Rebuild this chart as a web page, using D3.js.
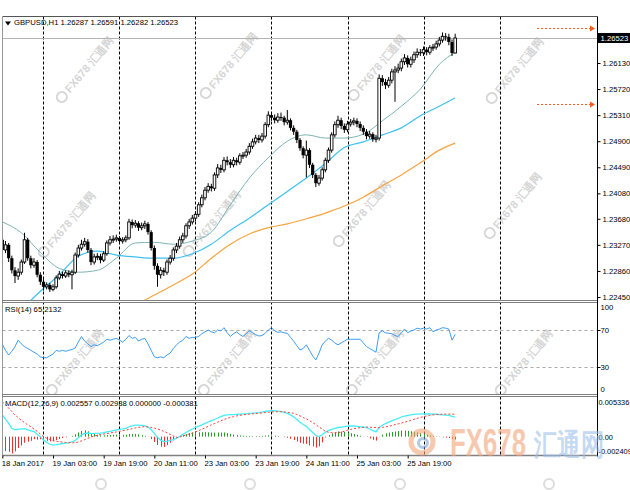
<!DOCTYPE html>
<html><head><meta charset="utf-8">
<script src="https://cdn.jsdelivr.net/npm/d3@7"></script>
<style>
body{margin:0;background:#fff}
svg{display:block}
text{font-family:"Liberation Sans",Arial,sans-serif}
</style>
</head><body>
<svg id="c" width="630" height="490"></svg>
<script>
// ---------------- DATA ----------------
const symbolTitle = "GBPUSD,H1";
const lastOHLC = ["1.26287","1.26591","1.26282","1.26523"];
const lastPrice = 1.26523;
const alertLevels = [1.2668, 1.2549];

const open = [1.2335,1.2319,1.2327,1.2306,1.2287,1.2278,1.2284,1.2300,1.2335,1.2306,
1.2295,1.2300,1.2280,1.2269,1.2261,1.2264,1.2257,1.2261,1.2275,1.2281,
1.2278,1.2283,1.2280,1.2284,1.2311,1.2322,1.2328,1.2332,1.2319,1.2300,
1.2308,1.2309,1.2303,1.2313,1.2330,1.2335,1.2336,1.2338,1.2333,1.2335,
1.2338,1.2363,1.2358,1.2361,1.2354,1.2357,1.2360,1.2347,1.2322,1.2294,
1.2280,1.2287,1.2284,1.2300,1.2306,1.2319,1.2325,1.2335,1.2341,1.2357,
1.2363,1.2369,1.2375,1.2390,1.2401,1.2413,1.2419,1.2416,1.2437,1.2448,
1.2445,1.2460,1.2457,1.2453,1.2460,1.2457,1.2467,1.2468,1.2473,1.2482,
1.2489,1.2495,1.2492,1.2498,1.2516,1.2531,1.2527,1.2523,1.2528,1.2527,
1.2520,1.2523,1.2511,1.2505,1.2492,1.2479,1.2468,1.2476,1.2453,1.2437,
1.2424,1.2432,1.2445,1.2460,1.2476,1.2500,1.2516,1.2523,1.2514,1.2508,
1.2517,1.2520,1.2522,1.2517,1.2511,1.2505,1.2498,1.2501,1.2493,1.2495,
1.2589,1.2583,1.2578,1.2586,1.2599,1.2602,1.2605,1.2615,1.2621,1.2611,
1.2618,1.2626,1.2630,1.2629,1.2634,1.2630,1.2637,1.2638,1.2643,1.2649,
1.2655,1.2654,1.2646,1.26287];
const high = [1.2340,1.2333,1.2330,1.2310,1.2292,1.2290,1.2304,1.2346,1.2338,1.2310,
1.2306,1.2303,1.2284,1.2273,1.2268,1.2267,1.2265,1.2279,1.2286,1.2285,
1.2287,1.2287,1.2288,1.2315,1.2327,1.2335,1.2338,1.2336,1.2322,1.2313,
1.2314,1.2313,1.2317,1.2334,1.2341,1.2342,1.2343,1.2341,1.2339,1.2342,
1.2368,1.2367,1.2366,1.2364,1.2362,1.2365,1.2363,1.2350,1.2326,1.2298,
1.2292,1.2291,1.2304,1.2311,1.2323,1.2330,1.2340,1.2346,1.2361,1.2368,
1.2374,1.2380,1.2394,1.2406,1.2418,1.2424,1.2423,1.2441,1.2454,1.2453,
1.2465,1.2466,1.2462,1.2465,1.2464,1.2471,1.2473,1.2478,1.2487,1.2494,
1.2500,1.2500,1.2503,1.2520,1.2537,1.2536,1.2532,1.2534,1.2535,1.2530,
1.2539,1.2526,1.2515,1.2508,1.2495,1.2482,1.2491,1.2479,1.2456,1.2440,
1.2437,1.2449,1.2464,1.2480,1.2504,1.2521,1.2530,1.2527,1.2518,1.2522,
1.2525,1.2527,1.2526,1.2521,1.2515,1.2509,1.2506,1.2504,1.2500,1.2595,
1.2594,1.2588,1.2591,1.2604,1.2608,1.2612,1.2620,1.2627,1.2625,1.2623,
1.2631,1.2636,1.2635,1.2639,1.2638,1.2641,1.2643,1.2648,1.2654,1.2661,
1.2660,1.2659,1.2650,1.26591];
const low = [1.2314,1.2314,1.2300,1.2282,1.2267,1.2272,1.2280,1.2297,1.2302,1.2290,
1.2291,1.2276,1.2264,1.2255,1.2257,1.2253,1.2254,1.2258,1.2272,1.2274,
1.2275,1.2276,1.2257,1.2281,1.2307,1.2318,1.2324,1.2315,1.2295,1.2296,
1.2303,1.2298,1.2300,1.2310,1.2326,1.2330,1.2332,1.2328,1.2329,1.2331,
1.2335,1.2353,1.2354,1.2349,1.2350,1.2352,1.2343,1.2318,1.2288,1.2261,
1.2274,1.2278,1.2280,1.2296,1.2302,1.2314,1.2321,1.2330,1.2337,1.2352,
1.2359,1.2364,1.2371,1.2386,1.2397,1.2409,1.2411,1.2412,1.2432,1.2440,
1.2441,1.2452,1.2448,1.2449,1.2452,1.2453,1.2462,1.2464,1.2469,1.2478,
1.2485,1.2487,1.2488,1.2494,1.2512,1.2522,1.2518,1.2519,1.2522,1.2515,
1.2516,1.2507,1.2500,1.2487,1.2475,1.2463,1.2433,1.2448,1.2432,1.2418,
1.2420,1.2428,1.2441,1.2456,1.2472,1.2496,1.2511,1.2509,1.2503,1.2504,
1.2513,1.2515,1.2512,1.2506,1.2500,1.2493,1.2494,1.2489,1.2488,1.2491,
1.2577,1.2572,1.2574,1.2581,1.2552,1.2597,1.2600,1.2610,1.2606,1.2606,
1.2613,1.2621,1.2624,1.2624,1.2625,1.2626,1.2632,1.2634,1.2639,1.2645,
1.2648,1.2641,1.2624,1.26282];
const close = [1.2319,1.2327,1.2306,1.2287,1.2278,1.2284,1.2300,1.2335,1.2306,1.2295,
1.2300,1.2280,1.2269,1.2261,1.2264,1.2257,1.2261,1.2275,1.2281,1.2278,
1.2283,1.2280,1.2284,1.2311,1.2322,1.2328,1.2332,1.2319,1.2300,1.2308,
1.2309,1.2303,1.2313,1.2330,1.2335,1.2336,1.2338,1.2333,1.2335,1.2338,
1.2363,1.2358,1.2361,1.2354,1.2357,1.2360,1.2347,1.2322,1.2294,1.2280,
1.2287,1.2284,1.2300,1.2306,1.2319,1.2325,1.2335,1.2341,1.2357,1.2363,
1.2369,1.2375,1.2390,1.2401,1.2413,1.2419,1.2416,1.2437,1.2448,1.2445,
1.2460,1.2457,1.2453,1.2460,1.2457,1.2467,1.2468,1.2473,1.2482,1.2489,
1.2495,1.2492,1.2498,1.2516,1.2531,1.2527,1.2523,1.2528,1.2527,1.2520,
1.2523,1.2511,1.2505,1.2492,1.2479,1.2468,1.2476,1.2453,1.2437,1.2424,
1.2432,1.2445,1.2460,1.2476,1.2500,1.2516,1.2523,1.2514,1.2508,1.2517,
1.2520,1.2522,1.2517,1.2511,1.2505,1.2498,1.2501,1.2493,1.2495,1.2589,
1.2583,1.2578,1.2586,1.2599,1.2602,1.2605,1.2615,1.2621,1.2611,1.2618,
1.2626,1.2630,1.2629,1.2634,1.2630,1.2637,1.2638,1.2643,1.2649,1.2655,
1.2654,1.2646,1.26287,1.26523];

// moving averages, read at sampled bars
const maFastBars = [0,6,12,18,24,30,36,42,48,54,60,66,72,78,84,90,96,102,108,114,120,126,132,138,143];
const maFast = [1.2363,1.2346,1.2315,1.2290,1.2284,1.2287,1.2306,1.2330,1.2331,1.2328,1.2333,1.2347,1.2390,1.2432,1.2464,1.2490,1.2500,1.2495,1.2495,1.2501,1.2522,1.2545,1.2572,1.2611,1.2630];
const maMidBars = [6,12,18,24,30,36,42,48,54,60,66,72,78,84,90,96,102,108,114,120,126,132,138,143];
const maMid = [1.2225,1.2254,1.2280,1.2309,1.2317,1.2311,1.2308,1.2306,1.2306,1.2313,1.2328,1.2350,1.2369,1.2390,1.2411,1.2432,1.2455,1.2480,1.2489,1.2500,1.2511,1.2530,1.2545,1.2558];
const maSlowBars = [42,48,54,60,66,72,78,84,90,96,102,108,114,120,126,132,138,143];
const maSlow = [1.2232,1.2248,1.2264,1.2281,1.2306,1.2328,1.2344,1.2354,1.2360,1.2368,1.2377,1.2388,1.2402,1.2420,1.2437,1.2456,1.2476,1.2487];

const rsi = [54.5,48,43,47,52,59,55,52,50,48,46,44,41,40,40,42,44,48,47,48,
47,48,49,50.5,57,63,58,55,52,54,53,55,57,60,59,60,61,59,57,60,
64,61,62,58,60,61,55,48,41,40,41,40,43,45,50,54,57,59,63,61,
62,62,63,66,68,70,68,67,70,69,72.5,67,63,66,68,65,63,66,69,67,
65,63.5,64,66.4,70,72.5,69,67.5,68,67,66.4,62,58,53,48.4,50,54,48,42,37.6,
45,54,58,61,59,56,54,56,58,60,60,60,60,60,56,52,50,48,46,67,
69,67,66.5,66,64,63,67,71,67,69,70,72,71,72,71,72.5,68,70,71,72.5,
72,71,59,65.2132];

const macdMain = [0.00284,0.00230,0.00175,0.00110,0.00090,0.00100,0.00098,0.00105,0.00090,0.00075,
0.00066,0.00030,0.00000,-0.00045,-0.00075,-0.00100,-0.00110,-0.00105,-0.00098,-0.00090,
-0.00085,-0.00078,-0.00070,-0.00050,-0.00015,0.00020,0.00043,0.00048,0.00040,0.00042,
0.00043,0.00045,0.00052,0.00062,0.00070,0.00080,0.00088,0.00096,0.00102,0.00110,
0.00130,0.00140,0.00150,0.00152,0.00148,0.00142,0.00125,0.00090,0.00043,-0.00010,
-0.00045,-0.00065,-0.00062,-0.00050,-0.00040,-0.00020,0.00000,0.00030,0.00055,0.00080,
0.00100,0.00120,0.00138,0.00155,0.00175,0.00192,0.00210,0.00225,0.00245,0.00262,
0.00280,0.00286,0.00288,0.00290,0.00293,0.00296,0.00298,0.00300,0.00305,0.00308,
0.00312,0.00316,0.00322,0.00330,0.00338,0.00342,0.00340,0.00335,0.00328,0.00318,
0.00305,0.00285,0.00260,0.00225,0.00190,0.00160,0.00135,0.00095,0.00055,0.00015,
0.00000,0.00025,0.00060,0.00080,0.00095,0.00110,0.00120,0.00126,0.00132,0.00138,
0.00140,0.00140,0.00136,0.00130,0.00125,0.00120,0.00100,0.00080,0.00066,0.00120,
0.00150,0.00172,0.00190,0.00208,0.00225,0.00240,0.00258,0.00270,0.00278,0.00285,
0.00292,0.00296,0.00298,0.00298,0.00297,0.00297,0.00296,0.00294,0.00290,0.00286,
0.00283,0.00278,0.00265,0.002557];
const macdSignal = [0.00458,0.00420,0.00375,0.00330,0.00284,0.00250,0.00215,0.00185,0.00155,0.00130,
0.00100,0.00070,0.00035,0.00000,-0.00020,-0.00038,-0.00050,-0.00060,-0.00067,-0.00072,
-0.00076,-0.00079,-0.00080,-0.00080,-0.00070,-0.00055,-0.00040,-0.00022,-0.00005,0.00008,
0.00018,0.00028,0.00035,0.00041,0.00048,0.00055,0.00062,0.00070,0.00078,0.00085,
0.00095,0.00105,0.00114,0.00122,0.00128,0.00130,0.00128,0.00122,0.00112,0.00100,
0.00088,0.00070,0.00050,0.00030,0.00010,-0.00015,-0.00005,0.00010,0.00022,0.00035,
0.00045,0.00062,0.00080,0.00098,0.00115,0.00135,0.00155,0.00172,0.00190,0.00208,
0.00225,0.00240,0.00252,0.00262,0.00272,0.00280,0.00286,0.00292,0.00296,0.00300,
0.00304,0.00308,0.00312,0.00316,0.00320,0.00324,0.00327,0.00328,0.00328,0.00325,
0.00320,0.00314,0.00306,0.00290,0.00272,0.00252,0.00232,0.00210,0.00185,0.00158,
0.00128,0.00100,0.00070,0.00058,0.00052,0.00050,0.00052,0.00060,0.00070,0.00085,
0.00095,0.00105,0.00112,0.00118,0.00122,0.00124,0.00124,0.00122,0.00118,0.00118,
0.00122,0.00128,0.00136,0.00146,0.00158,0.00168,0.00178,0.00190,0.00202,0.00215,
0.00228,0.00240,0.00252,0.00263,0.00272,0.00280,0.00286,0.00290,0.00293,0.00295,
0.00296,0.00296,0.00295,0.002938];

const priceTicks = ["1.26130","1.25720","1.25310","1.24900","1.24490","1.24080","1.23680","1.23270","1.22860","1.22450"];
const rsiTicks = ["100","70","30","0"];
const rsiLevels = [70, 30];
const macdTicks = ["0.005336","0.00","-0.002409"];
const timeLabels = ["18 Jan 2017","19 Jan 03:00","19 Jan 19:00","20 Jan 11:00","23 Jan 03:00","23 Jan 19:00","24 Jan 11:00","25 Jan 03:00","25 Jan 19:00"];
const timeLabelBars = [0,16,32,48,64,80,96,112,128];
const daySeparatorBars = [13,37,61,85,109,133,157];

// ---------------- LAYOUT ----------------
const L = 2.5, R = 597.5;
const mainTop = 16.5, mainBot = 300.5, rsiTop = 302.5, rsiBot = 394.5, macdTop = 396.5, macdBot = 455.5;
const svg = d3.select("#c");
svg.append("rect").attr("width",630).attr("height",490).attr("fill","#fff");

const x = d3.scaleLinear().domain([0,143]).range([2.33, 2.33 + 143*3.1667]);
const y = d3.scaleLinear().domain([1.22450, 1.26130]).range([297, 63]);
const yR = d3.scaleLinear().domain([0,100]).range([394.75, 302.25]);
const yM = d3.scaleLinear().domain([-0.002409, 0.005336]).range([455, 396]);

const defs = svg.append("defs");
function clip(id, y0, y1){
  defs.append("clipPath").attr("id",id).append("rect").attr("x",L).attr("y",y0).attr("width",R-L).attr("height",y1-y0);
}
clip("cm", mainTop, mainBot); clip("cr", rsiTop, rsiBot); clip("cx", macdTop, macdBot);

// small watermarks
const wmPos = [[88,72],[232,68],[380,70],[518,73],[70,227],[215,226],[365,216],[516,208],[78,365],[230,365],[378,365],[527,365]];
const wm = svg.append("g");
wmPos.forEach(p=>{
  const g = wm.append("g").attr("transform",`translate(${p[0]},${p[1]}) rotate(-50)`);
  g.append("circle").attr("cx",-36).attr("cy",-4).attr("r",5).attr("fill","none").attr("stroke","#d6d6d6").attr("stroke-width",2);
  g.append("text").attr("x",-28).attr("y",0).attr("font-size",11).attr("font-weight","bold").attr("fill","#d6d6d6").text("FX678 汇通网");
});
[[101,476],[250,476],[400,476],[549,476]].forEach(p=>{
  wm.append("circle").attr("cx",p[0]).attr("cy",p[1]+8).attr("r",5).attr("fill","none").attr("stroke","#dcdcdc").attr("stroke-width",2);
});

// grid verticals
const grid = svg.append("g");
daySeparatorBars.forEach(b=>{
  const gx = Math.round(x(b)) + 0.5;
  grid.append("line").attr("x1",gx).attr("x2",gx).attr("y1",mainTop).attr("y2",macdBot)
    .attr("stroke","#000").attr("stroke-dasharray","3,2").attr("stroke-width",1);
});
rsiLevels.forEach(v=>{
  grid.append("line").attr("x1",L).attr("x2",R).attr("y1",Math.round(yR(v))+0.5).attr("y2",Math.round(yR(v))+0.5)
    .attr("stroke","#aaa").attr("stroke-dasharray","3,3");
});

// bid line
svg.append("line").attr("x1",L).attr("x2",R).attr("y1",Math.round(y(lastPrice))+0.5).attr("y2",Math.round(y(lastPrice))+0.5)
  .attr("stroke","#b4b4b4").attr("stroke-width",1);

// MAs
const main = svg.append("g").attr("clip-path","url(#cm)");
function maLine(bars, vals, color, w){
  main.append("path").datum(bars.map((b,i)=>[b, vals[i]]))
    .attr("d", d3.line().x(d=>x(d[0])).y(d=>y(d[1])).curve(d3.curveMonotoneX))
    .attr("fill","none").attr("stroke",color).attr("stroke-width",w);
}
maLine(maSlowBars, maSlow, "#f9a33f", 1.2);
maLine(maMidBars, maMid, "#3fc0f2", 1.2);
maLine(maFastBars, maFast, "#7db4b4", 1);

// candles
const cg = main.append("g");
close.forEach((c,i)=>{
  const o = open[i], cx = x(i);
  cg.append("line").attr("x1",cx).attr("x2",cx).attr("y1",y(high[i])).attr("y2",y(low[i])).attr("stroke","#000").attr("stroke-width",1);
  const top = y(Math.max(o,c)), bot = y(Math.min(o,c));
  const h = Math.max(bot-top, 1);
  if (c >= o) {
    cg.append("rect").attr("x",cx-1.3).attr("y",top).attr("width",2.6).attr("height",h)
      .attr("fill","#fff").attr("stroke","#000").attr("stroke-width",0.9);
  } else {
    cg.append("rect").attr("x",cx-1.6).attr("y",top).attr("width",3.2).attr("height",h).attr("fill","#000");
  }
});

// RSI
svg.append("g").attr("clip-path","url(#cr)").append("path").datum(rsi)
  .attr("d", d3.line().x((d,i)=>x(i)).y(d=>yR(d)))
  .attr("fill","none").attr("stroke","#3d9cf5").attr("stroke-width",1);

// MACD
const mg = svg.append("g").attr("clip-path","url(#cx)");
macdMain.forEach((m,i)=>{
  const hv = m - macdSignal[i];
  const hx = Math.round(x(i)) + 0.5;
  mg.append("line").attr("x1",hx).attr("x2",hx).attr("y1",yM(0)).attr("y2",yM(hv))
    .attr("stroke", hv > 0 ? "#2a9a2a" : "#ff2a2a").attr("stroke-width",1);
});
mg.append("path").datum(macdMain).attr("d", d3.line().x((d,i)=>x(i)).y(d=>yM(d)))
  .attr("fill","none").attr("stroke","#45eef5").attr("stroke-width",1.3);
mg.append("path").datum(macdSignal).attr("d", d3.line().x((d,i)=>x(i)).y(d=>yM(d)))
  .attr("fill","none").attr("stroke","#ff3b3b").attr("stroke-width",1).attr("stroke-dasharray","2,2");

// alert arrows
const ar = svg.append("g");
alertLevels.forEach(v=>{
  const ay = Math.round(y(v)) + 0.5;
  ar.append("line").attr("x1",537).attr("x2",591).attr("y1",ay).attr("y2",ay).attr("stroke","#ff5a1e").attr("stroke-dasharray","2,2").attr("stroke-width",1.2);
  ar.append("path").attr("d",`M590,${ay-3}L595,${ay}L590,${ay+3}Z`).attr("fill","#ff5a1e");
});

// frames
const fr = svg.append("g").attr("fill","none");
fr.append("line").attr("x1",L).attr("x2",R).attr("y1",mainTop).attr("y2",mainTop).attr("stroke","#555");
fr.append("line").attr("x1",L).attr("x2",L).attr("y1",mainTop).attr("y2",macdBot).attr("stroke","#999");
[[mainBot,rsiTop],[rsiBot,macdTop]].forEach(s=>{
  fr.append("rect").attr("x",L).attr("y",s[0]).attr("width",R-L).attr("height",s[1]-s[0]).attr("fill","#fff").attr("stroke","#808080").attr("stroke-width",1);
});
fr.append("line").attr("x1",L).attr("x2",R).attr("y1",macdBot).attr("y2",macdBot).attr("stroke","#808080").attr("stroke-width",1.5);
fr.append("line").attr("x1",R).attr("x2",R).attr("y1",mainTop).attr("y2",macdBot+1).attr("stroke","#000");

// price axis
const FS = 7.7;
const pa = svg.append("g").attr("transform",`translate(${R},0)`)
  .call(d3.axisRight(y).tickValues(priceTicks.map(Number)).tickFormat(d3.format(".5f")).tickSize(3).tickPadding(2));
pa.select(".domain").remove();
pa.selectAll("text").attr("font-size",FS).attr("fill","#000").attr("font-family","Liberation Sans, Arial");
pa.selectAll("line").attr("stroke","#000");
const ly = y(lastPrice);
svg.append("rect").attr("x",R).attr("y",ly-5).attr("width",33).attr("height",10).attr("fill","#000");
svg.append("text").attr("x",R+3).attr("y",ly).attr("dy","0.35em").attr("font-size",FS).attr("fill","#fff").text(lastPrice.toFixed(5));

// RSI axis
const rsiLabelY = [yR(100)+5, yR(70), yR(30), yR(0)-5];
rsiTicks.forEach((t,i)=>{
  svg.append("text").attr("x",R+3).attr("y",rsiLabelY[i]).attr("dy","0.35em").attr("font-size",FS).text(t);
  if (t==="70"||t==="30") svg.append("line").attr("x1",R).attr("x2",R+3).attr("y1",Math.round(yR(+t))+0.5).attr("y2",Math.round(yR(+t))+0.5).attr("stroke","#000");
});
// MACD axis
const macdLabelY = [yM(0.005336)+6, yM(0)+1, yM(-0.002409)-4];
macdTicks.forEach((t,i)=>{
  svg.append("text").attr("x",R+1).attr("y",macdLabelY[i]).attr("dy","0.35em").attr("font-size",7.4).text(t);
});

// time axis
const ta = svg.append("g").attr("transform",`translate(0,${macdBot})`)
  .call(d3.axisBottom(x).tickValues(timeLabelBars).tickFormat((d,i)=>timeLabels[i]).tickSize(3).tickPadding(2));
ta.select(".domain").remove();
ta.selectAll("text").attr("font-size",FS).attr("fill","#000").attr("text-anchor","start").attr("dx",-1).attr("font-family","Liberation Sans, Arial");
ta.selectAll("line").attr("stroke","#000");

// panel titles
svg.append("path").attr("d","M5,21.5L11,21.5L8,25.5Z").attr("fill","#000");
svg.append("text").attr("x",14).attr("y",24.5).attr("font-size",FS).text(symbolTitle + "  " + lastOHLC.join(" "));
svg.append("text").attr("x",5).attr("y",312).attr("font-size",FS).text("RSI(14) " + rsi[rsi.length-1].toFixed(4));
const hLast = macdMain[143]-macdSignal[143];
svg.append("text").attr("x",5).attr("y",406).attr("font-size",FS)
  .text(`MACD(12,26,9) ${macdMain[143].toFixed(6)} ${macdSignal[143].toFixed(6)} ${(hLast>0?hLast:0).toFixed(6)} ${(hLast<0?hLast:0).toFixed(6)}`);

// big logo
const lg = svg.append("g").attr("opacity",0.6);
lg.append("circle").attr("cx",422).attr("cy",442).attr("r",11).attr("fill","none").attr("stroke","#f2a679").attr("stroke-width",5);
lg.append("circle").attr("cx",423).attr("cy",443).attr("r",4.5).attr("fill","none").attr("stroke","#7fa8d8").attr("stroke-width",3);
lg.append("text").attr("x",450).attr("y",456).attr("font-size",38).attr("font-weight","bold").attr("fill","#f4a57a")
  .attr("textLength",76).attr("lengthAdjust","spacingAndGlyphs").text("FX678");
lg.append("text").attr("x",534).attr("y",455).attr("font-size",30).attr("font-weight","bold").attr("fill","#9ec0ea")
  .attr("font-family","Noto Sans CJK SC").attr("textLength",70).attr("lengthAdjust","spacingAndGlyphs").text("汇通网");
</script>
</body></html>
